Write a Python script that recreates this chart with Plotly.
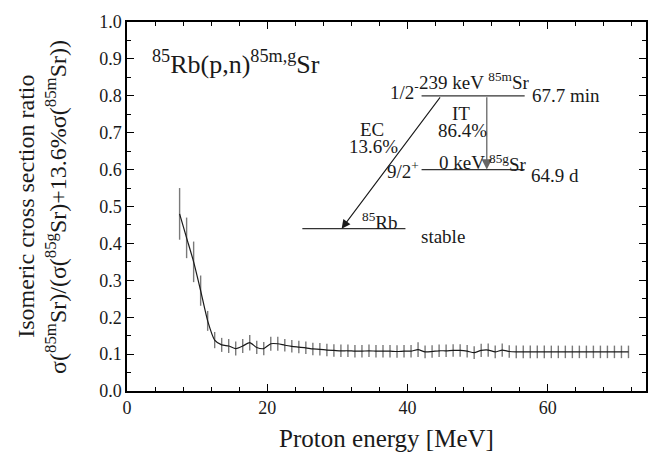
import plotly.graph_objects as go

# ---- data ----
energy = [7.5, 8.5, 9.5, 10.5, 11.5, 12.5, 13.5, 14.5, 15.5, 16.5, 17.5, 18.5, 19.5,
          20.5, 21.5, 22.5, 23.5, 24.5, 25.5, 26.5, 27.5, 28.5, 29.5, 30.5, 31.5,
          32.5, 33.5, 34.5, 35.5, 36.5, 37.5, 38.5, 39.5, 40.5, 41.5, 42.5, 43.5,
          44.5, 45.5, 46.5, 47.5, 48.5, 49.5, 50.5, 51.5, 52.5, 53.5, 54.5, 55.5,
          56.5, 57.5, 58.5, 59.5, 60.5, 61.5, 62.5, 63.5, 64.5, 65.5, 66.5, 67.5,
          68.5, 69.5, 70.5, 71.5]
ratio = [0.480, 0.415, 0.350, 0.272, 0.190, 0.138, 0.125, 0.122, 0.115, 0.122, 0.131, 0.118, 0.115,
         0.128, 0.128, 0.124, 0.121, 0.119, 0.117, 0.114, 0.113, 0.111, 0.110, 0.109, 0.109,
         0.108, 0.108, 0.109, 0.108, 0.108, 0.108, 0.107, 0.108, 0.108, 0.112, 0.106, 0.107,
         0.109, 0.109, 0.110, 0.110, 0.108, 0.104, 0.110, 0.111, 0.106, 0.111, 0.107, 0.106,
         0.106, 0.106, 0.106, 0.106, 0.106, 0.106, 0.106, 0.106, 0.106, 0.106, 0.106, 0.106,
         0.106, 0.106, 0.106, 0.106]
ratio_err = [0.070, 0.055, 0.055, 0.041, 0.027, 0.022, 0.019, 0.019, 0.019, 0.019, 0.021, 0.018, 0.018,
             0.019, 0.019, 0.017, 0.017, 0.017, 0.017, 0.017, 0.017, 0.017, 0.017, 0.017, 0.017,
             0.017, 0.017, 0.017, 0.017, 0.017, 0.017, 0.017, 0.017, 0.017, 0.020, 0.017, 0.017,
             0.017, 0.017, 0.017, 0.017, 0.017, 0.017, 0.018, 0.018, 0.017, 0.018, 0.017, 0.017,
             0.017, 0.017, 0.017, 0.017, 0.017, 0.017, 0.017, 0.017, 0.017, 0.017, 0.017, 0.017,
             0.017, 0.017, 0.017, 0.017]

# decay scheme (data coordinates)
level_names = ["85mSr", "85gSr", "85Rb"]
level_x0 = [42.0, 42.0, 25.0]
level_x1 = [56.7, 56.7, 39.7]
level_y = [0.80, 0.60, 0.44]
ec_from = (44.8, 0.80)
ec_to = (30.6, 0.44)
it_x = 51.3

FONT = "Liberation Serif"
TXT = "#1a1a1a"

fig = go.Figure()
fig.add_trace(go.Scatter(
    x=energy, y=ratio, mode="lines",
    line=dict(color="#1a1a1a", width=1.2, shape="spline", smoothing=0.6),
    error_y=dict(type="data", array=ratio_err, visible=True, width=0,
                 color="#7a7a7a", thickness=1.4),
    showlegend=False, hoverinfo="skip"))

axis_common = dict(
    showline=True, linecolor="black", linewidth=1.5, mirror="ticks",
    ticks="inside", ticklen=7, tickwidth=1.3, tickcolor="black",
    showgrid=False, zeroline=False,
    tickfont=dict(family=FONT, size=18, color=TXT),
)

fig.update_xaxes(range=[0, 74], dtick=20, tick0=0,
                 minor=dict(ticks="inside", dtick=4, ticklen=4, tickcolor="black", tickwidth=1.2),
                 title=dict(text="Proton energy [MeV]", font=dict(family=FONT, size=25, color=TXT),
                            standoff=12),
                 **axis_common)
fig.update_yaxes(range=[0, 1.0], dtick=0.1, tick0=0, tickformat=".1f",
                 minor=dict(ticks="inside", dtick=0.05, ticklen=4, tickcolor="black", tickwidth=1.2),
                 **axis_common)

# level lines
for x0, x1, yv in zip(level_x0, level_x1, level_y):
    fig.add_shape(type="line", x0=x0, x1=x1, y0=yv, y1=yv, xref="x", yref="y",
                  line=dict(color="#333333", width=1.3))

# arrows
fig.add_annotation(x=ec_to[0], y=ec_to[1], ax=ec_from[0], ay=ec_from[1],
                   xref="x", yref="y", axref="x", ayref="y", text="",
                   showarrow=True, arrowhead=2, arrowsize=1.6, arrowwidth=1.1,
                   arrowcolor="#1a1a1a")
fig.add_annotation(x=it_x, y=level_y[1], ax=it_x, ay=level_y[0],
                   xref="x", yref="y", axref="x", ayref="y", text="",
                   showarrow=True, arrowhead=2, arrowsize=1.6, arrowwidth=1.3,
                   arrowcolor="#666666")

def txt(x, y, s, size=19, xanchor="center", yanchor="middle"):
    fig.add_annotation(x=x, y=y, xref="x", yref="y", text=s, showarrow=False,
                       xanchor=xanchor, yanchor=yanchor,
                       font=dict(family=FONT, size=size, color=TXT))

txt(49.6, 0.803, "239 keV <sup>85m</sup>Sr", yanchor="bottom")
txt(41.9, 0.812, "1/2<sup>-</sup>", xanchor="right")
txt(57.5, 0.80, "67.7 min", xanchor="left")
txt(47.6, 0.752, "IT")
txt(47.8, 0.705, "86.4%")
txt(35.0, 0.708, "EC")
txt(35.2, 0.662, "13.6%")
txt(41.9, 0.60, "9/2<sup>+</sup>", xanchor="right")
txt(47.7, 0.619, "0 keV")
txt(54.3, 0.619, "<sup>85g</sup>Sr")
txt(57.3, 0.585, "64.9 d", xanchor="left")
txt(36.0, 0.462, "<sup>85</sup>Rb")
txt(41.6, 0.42, "stable", xanchor="left")

# reaction label
fig.add_annotation(x=0.045, y=0.89, xref="paper", yref="paper",
                   text="<sup>85</sup>Rb(p,n)<sup>85m,g</sup>Sr", showarrow=False,
                   xanchor="left", yanchor="middle",
                   font=dict(family=FONT, size=26, color=TXT))

# y axis title (two lines)
fig.add_annotation(x=-0.196, y=0.5, xref="paper", yref="paper",
                   text="Isomeric cross section ratio", textangle=-90, showarrow=False,
                   xanchor="center", yanchor="middle",
                   font=dict(family=FONT, size=24, color=TXT))
fig.add_annotation(x=-0.138, y=0.5, xref="paper", yref="paper",
                   text="σ(<sup>85m</sup>Sr)/(σ(<sup>85g</sup>Sr)+13.6%σ(<sup>85m</sup>Sr))",
                   textangle=-90, showarrow=False, xanchor="center", yanchor="middle",
                   font=dict(family=FONT, size=24, color=TXT))

fig.update_layout(width=652, height=453,
                  margin=dict(l=127, r=4, t=22, b=62),
                  paper_bgcolor="white", plot_bgcolor="white",
                  font=dict(family=FONT, color="black"))

fig.write_html("out.html")
